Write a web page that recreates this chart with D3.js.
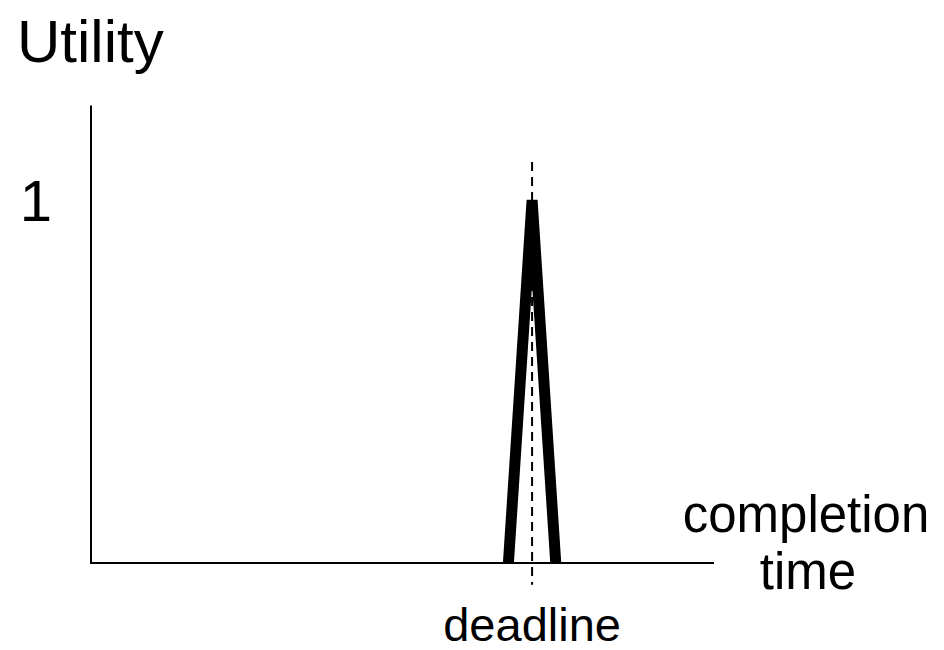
<!DOCTYPE html>
<html>
<head>
<meta charset="utf-8">
<script src="https://cdn.jsdelivr.net/npm/d3@7"></script>
<style>
  html, body { margin: 0; padding: 0; background: #fff; }
  svg { display: block; }
  text { font-family: "Liberation Sans", Arial, Helvetica, sans-serif; fill: #000; }
</style>
</head>
<body>
<svg id="chart" width="944" height="650"></svg>
<script>
// Data
const completionTime = [6.7, 7.08, 7.46];
const utility = [0, 1, 0];
const deadline = 7.08;
const yTickValues = [1];
const yTickLabels = ["1"];
const yAxisTitle = "Utility";
const xAxisTitle = ["completion", "time"];
const deadlineLabel = "deadline";

const svg = d3.select("#chart");
const x = d3.scaleLinear().domain([0, 10]).range([91, 714]);
const y = d3.scaleLinear().domain([0, 1]).range([563, 200]);

// axes
svg.append("line").attr("x1", x(0)).attr("x2", x(0))
  .attr("y1", y(0) + 1).attr("y2", y(1.26))
  .attr("stroke", "#000").attr("stroke-width", 2);
svg.append("line").attr("x1", x(0)).attr("x2", x(10))
  .attr("y1", y(0)).attr("y2", y(0))
  .attr("stroke", "#000").attr("stroke-width", 2);

// deadline dashed line
svg.append("line").attr("x1", x(deadline)).attr("x2", x(deadline))
  .attr("y1", y(1.105)).attr("y2", y(-0.06))
  .attr("stroke", "#000").attr("stroke-width", 2)
  .attr("stroke-dasharray", "9,6");

// utility curve
const pts = completionTime.map((t, i) => [t, utility[i]]);
svg.append("path").datum(pts)
  .attr("d", d3.line().x(d => x(d[0])).y(d => y(d[1])))
  .attr("fill", "none").attr("stroke", "#000")
  .attr("stroke-width", 11).attr("stroke-linejoin", "bevel");

// texts
svg.append("text").attr("x", 17).attr("y", 62)
  .style("font-size", "60px").text(yAxisTitle);
svg.selectAll(".ytick").data(yTickValues).enter().append("text")
  .attr("class", "ytick")
  .attr("x", 36).attr("y", d => y(d) + 21)
  .attr("text-anchor", "middle")
  .style("font-size", "58px")
  .text((d, i) => yTickLabels[i]);
svg.append("text").attr("x", 806).attr("y", 532)
  .attr("text-anchor", "middle").style("font-size", "51px").text(xAxisTitle[0]);
svg.append("text").attr("x", 808).attr("y", 589)
  .attr("text-anchor", "middle").style("font-size", "51px").text(xAxisTitle[1]);
svg.append("text").attr("x", x(deadline)).attr("y", 641)
  .attr("text-anchor", "middle").style("font-size", "47px").text(deadlineLabel);
</script>
</body>
</html>
